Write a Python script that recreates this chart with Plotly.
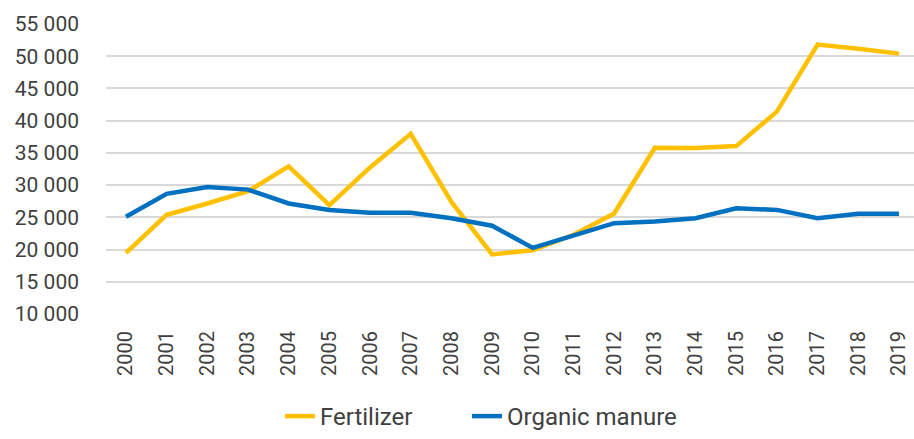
import plotly.graph_objects as go

years = [str(y) for y in range(2000, 2020)]
fertilizer = [19500, 25400, 27150, 29050, 32900, 26900, 32750, 37950, 27400, 19250,
              19900, 22300, 25600, 35800, 35750, 36050, 41400, 51800, 51150, 50400]
organic_manure = [25100, 28650, 29700, 29300, 27150, 26150, 25700, 25700, 24850, 23700,
                  20250, 22150, 24100, 24350, 24850, 26400, 26150, 24850, 25550, 25550]
y_ticks = list(range(10000, 55001, 5000))

FONT = "Roboto, Noto Sans, sans-serif"

fig = go.Figure()
fig.add_trace(go.Scatter(x=list(range(len(years))), y=fertilizer, mode="lines", name="Fertilizer",
                         line=dict(color="#FFC000", width=4.5), legend="legend"))
fig.add_trace(go.Scatter(x=list(range(len(years))), y=organic_manure, mode="lines", name="Organic manure",
                         line=dict(color="#0070C0", width=4.5), legend="legend2"))

legend_common = dict(orientation="h", xanchor="left", y=-0.355, yanchor="middle",
                     font=dict(size=24, color="#404040"), itemwidth=30,
                     bgcolor="rgba(0,0,0,0)", borderwidth=0)

fig.update_layout(
    width=914, height=439,
    margin=dict(l=106, r=0, t=24, b=120),
    plot_bgcolor="white", paper_bgcolor="white",
    separators=". ",
    font=dict(family=FONT, size=20, color="#404040"),
    showlegend=True,
    legend=dict(x=0.2153, **legend_common),
    legend2=dict(x=0.4468, **legend_common),
    xaxis=dict(tickmode="array", tickvals=list(range(len(years))), ticktext=years,
               range=[-0.49, 19.37], tickangle=-90, showgrid=False, zeroline=False,
               showline=False, ticks="", automargin=False, ticklabelstandoff=12,
               tickfont=dict(size=20, color="#404040")),
    yaxis=dict(range=[10000, 55000], tickvals=y_ticks, tickformat=",d",
               showgrid=True, gridcolor="#D9D9D9", gridwidth=1.5, zeroline=False,
               showline=False, ticks="", ticklabelstandoff=26, automargin=False,
               tickfont=dict(size=21, color="#404040")),
)

fig.write_html("out.html", config={"displayModeBar": False},
               post_script="document.body.style.margin='0';document.body.style.overflow='hidden';")
